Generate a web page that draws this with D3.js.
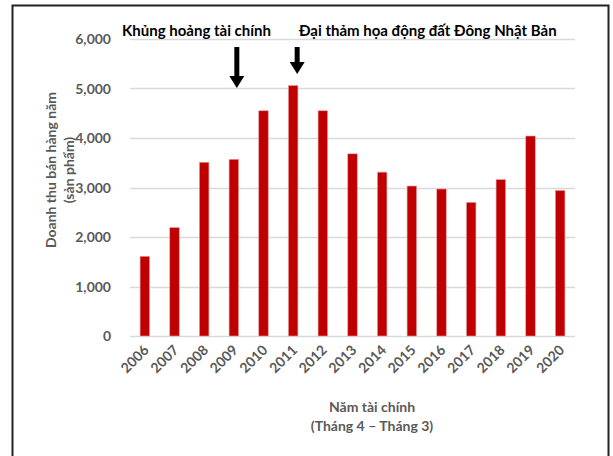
<!DOCTYPE html>
<html><head><meta charset="utf-8">
<script src="https://cdn.jsdelivr.net/npm/d3@7"></script>
<style>body{margin:0;background:#fff}svg{display:block}</style>
</head><body>
<svg id="c" width="613" height="456"></svg>
<script>
const years = ["2006","2007","2008","2009","2010","2011","2012","2013","2014","2015","2016","2017","2018","2019","2020"];
const sales = [1610,2190,3510,3570,4550,5060,4550,3680,3310,3030,2970,2700,3160,4040,2940];
const yTicks = [0,1000,2000,3000,4000,5000,6000];
const events = [{year:"2009", text:"Khủng hoảng tài chính"},
                {year:"2011", text:"Đại thảm họa động đất Đông Nhật Bản"}];

const svg = d3.select("#c");
const font = "Lato,'Open Sans',sans-serif";
const L=130, R=575, T=39, B=336;
const x = d3.scaleBand().domain(years).range([L,R]).paddingInner(0.68).paddingOuter(0.34);
const y = d3.scaleLinear().domain([0,6000]).range([B,T]);

// frame
svg.append("path").attr("d","M12.5,470 V5.5 H608.5 V470").attr("fill","none").attr("stroke","#222").attr("stroke-width",2);

// grid
svg.append("g").selectAll("line").data(yTicks).join("line")
  .attr("x1",L).attr("x2",R).attr("y1",d=>Math.round(y(d))+0.5).attr("y2",d=>Math.round(y(d))+0.5)
  .attr("stroke","#d9d9d9").attr("stroke-width",1.3);

// y labels
svg.append("g").selectAll("text").data(yTicks).join("text")
  .attr("x",111).attr("y",d=>y(d)+5).attr("text-anchor","end")
  .attr("font-family",font).attr("font-weight","bold").attr("font-size",14).attr("fill","#595959")
  .text(d=>d3.format(",")(d));

// bars
svg.append("g").selectAll("rect").data(sales).join("rect")
  .attr("x",(d,i)=>x(years[i])).attr("width",x.bandwidth())
  .attr("y",d=>y(d)).attr("height",d=>y(0)-y(d))
  .attr("fill","#c00000").attr("stroke","#e8a0a0").attr("stroke-width",0.6);

// x labels
svg.append("g").selectAll("text").data(years).join("text")
  .attr("transform",d=>`translate(${x(d)+x.bandwidth()/2+5},${B+15}) rotate(-45)`)
  .attr("text-anchor","end")
  .attr("font-family",font).attr("font-weight","bold").attr("font-size",14).attr("fill","#595959")
  .text(d=>d);

// axis titles
svg.append("text").attr("transform","translate(56,170) rotate(-90)").attr("text-anchor","middle")
  .attr("font-family",font).attr("font-weight","bold").attr("font-size",14).attr("fill","#595959")
  .text("Doanh thu bán hàng năm");
svg.append("text").attr("transform","translate(74,170) rotate(-90)").attr("text-anchor","middle")
  .attr("font-family",font).attr("font-weight","bold").attr("font-size",14).attr("fill","#595959")
  .text("(sản phẩm)");
svg.append("text").attr("x",372).attr("y",412).attr("text-anchor","middle")
  .attr("font-family",font).attr("font-weight","bold").attr("font-size",14).attr("fill","#595959")
  .text("Năm tài chính");
svg.append("text").attr("x",372).attr("y",431).attr("text-anchor","middle")
  .attr("font-family",font).attr("font-weight","bold").attr("font-size",14).attr("fill","#595959")
  .text("(Tháng 4 – Tháng 3)");

// annotations
svg.append("text").attr("x",122).attr("y",36).attr("font-family",font).attr("font-weight","bold")
  .attr("font-size",15).attr("fill","#000").text(events[0].text);
svg.append("text").attr("x",299).attr("y",36).attr("font-family",font).attr("font-weight","bold")
  .attr("font-size",15).attr("fill","#000").text(events[1].text);

const arrows = [{cx:x("2009")+x.bandwidth()/2+3, y0:47, y1:88},{cx:x("2011")+x.bandwidth()/2+4, y0:47, y1:74}];
arrows.forEach(a=>{
  svg.append("line").attr("x1",a.cx).attr("x2",a.cx).attr("y1",a.y0).attr("y2",a.y1-11)
    .attr("stroke","#000").attr("stroke-width",5);
  svg.append("path").attr("d",`M${a.cx-7.5},${a.y1-12} L${a.cx+7.5},${a.y1-12} L${a.cx},${a.y1} Z`).attr("fill","#000");
});
</script>
</body></html>
